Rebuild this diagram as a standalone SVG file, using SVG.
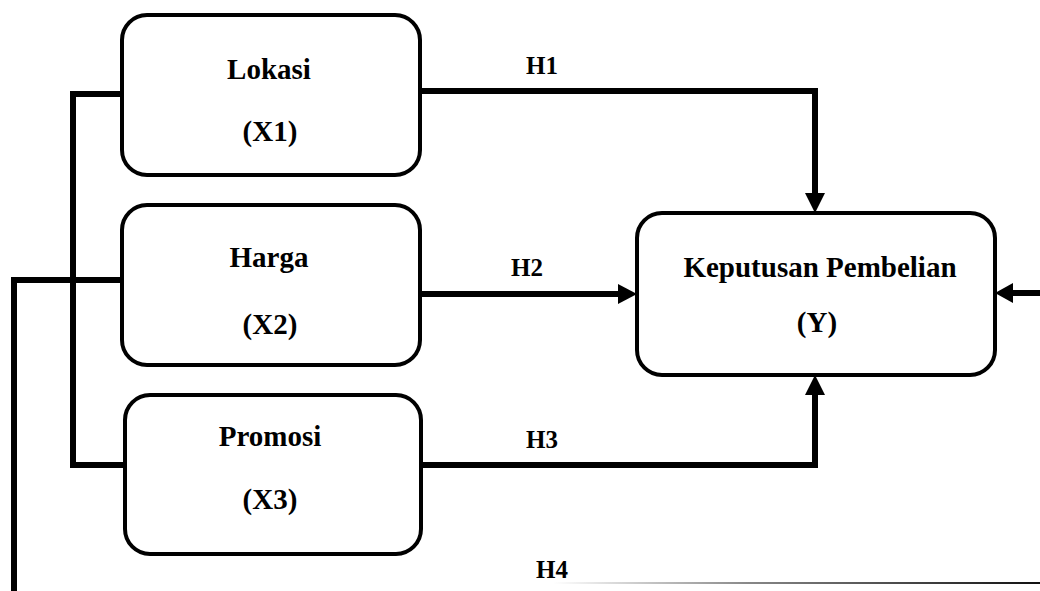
<svg xmlns="http://www.w3.org/2000/svg" width="1040" height="591" viewBox="0 0 1040 591">
<defs>
<style>
.box{fill:#fff;stroke:#000;stroke-width:4}
.lbl{font-family:"Liberation Serif","Times New Roman",serif;font-weight:bold;font-size:29px;fill:#000;text-anchor:middle}
.h{font-family:"Liberation Serif","Times New Roman",serif;font-weight:bold;font-size:25px;fill:#000;text-anchor:middle}
.ln{fill:none;stroke:#000;stroke-width:6;stroke-linejoin:miter}
.ah{fill:#000}
</style>
<linearGradient id="g" x1="0" x2="1" y1="0" y2="0">
<stop offset="0" stop-color="#fff"/>
<stop offset="0.4" stop-color="#888"/>
<stop offset="1" stop-color="#111"/>
</linearGradient>
</defs>
<rect width="1040" height="591" fill="#fff"/>
<g id="connectors">
<path class="ln" d="M122,94 H73 V465 H125"/>
<path class="ln" d="M122,280 H14 V591"/>
<path class="ln" d="M420,91 H815 V196"/>
<polygon class="ah" points="805,193 825,193 815,213"/>
<path class="ln" d="M420,294 H620"/>
<polygon class="ah" points="618,284 618,304 637,294"/>
<path class="ln" d="M420,465 H815 V393"/>
<polygon class="ah" points="805,395 825,395 815,375"/>
<path class="ln" d="M1040,293 H1010"/>
<polygon class="ah" points="1013,283 1013,303 995,293"/>
<rect x="553" y="582" width="487" height="2" fill="url(#g)"/>
</g>
<g id="lokasi">
<rect class="box" x="122" y="15" width="298" height="160" rx="25"/>
<text class="lbl" x="269" y="79">Lokasi</text>
<text class="lbl" x="270" y="141">(X1)</text>
</g>
<g id="harga">
<rect class="box" x="122" y="205" width="298" height="160" rx="25"/>
<text class="lbl" x="269" y="267">Harga</text>
<text class="lbl" x="270" y="334">(X2)</text>
</g>
<g id="promosi">
<rect class="box" x="125" y="395" width="296" height="159" rx="25"/>
<text class="lbl" x="270" y="446">Promosi</text>
<text class="lbl" x="270" y="509">(X3)</text>
</g>
<g id="keputusan">
<rect class="box" x="637" y="213" width="358" height="162" rx="25"/>
<text class="lbl" x="820" y="277">Keputusan Pembelian</text>
<text class="lbl" x="817" y="332">(Y)</text>
</g>
<g id="labels">
<text class="h" x="542" y="74">H1</text>
<text class="h" x="527" y="276">H2</text>
<text class="h" x="542" y="448">H3</text>
<text class="h" x="552" y="578">H4</text>
</g>
</svg>
